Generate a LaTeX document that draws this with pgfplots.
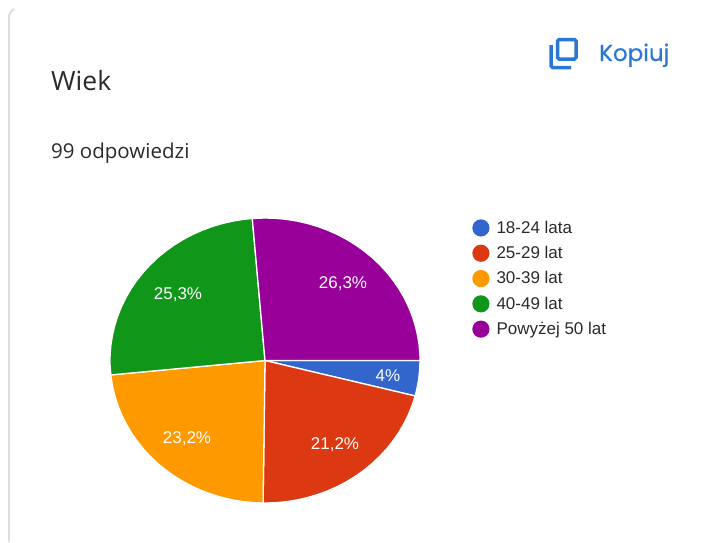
\documentclass[border=0pt]{standalone}
\usepackage{fontspec}
\setmainfont{Liberation Sans}
\newfontfamily\headfont{Open Sans}
\newfontfamily\btnfont[FakeBold=0.5]{Poppins}
\usepackage{pgfplots}
\usepgfplotslibrary{polar}
\pgfplotsset{compat=1.18}
\definecolor{cA}{HTML}{3366CC}
\definecolor{cB}{HTML}{DC3912}
\definecolor{cC}{HTML}{FF9900}
\definecolor{cD}{HTML}{109618}
\definecolor{cE}{HTML}{990099}
\definecolor{btn}{HTML}{2B78D4}
\definecolor{ink}{HTML}{2A2A2A}
\begin{document}
\begin{tikzpicture}
\useasboundingbox (0,0) rectangle (714pt,542pt);
% pie: origin is the pie's centre, unit r = 155 px wide, 142.5 px tall
\begin{axis}[
  at={(0,0)}, anchor=south west,
  scale only axis, width=714pt, height=542pt,
  xmin=-265, xmax=449, ymin=-197.4, ymax=392.1,
  axis lines=none, clip=false,
  legend image code/.code={\fill[#1,draw=none] (0pt,0) circle (8.6pt);},
  legend cell align=left,
  legend style={at={(rel axis cs:0.6615,0.5953)},anchor=north west,draw=none,fill=none,
    font=\fontsize{17}{20}\selectfont\color{ink},
    row sep=8.1pt, column sep=6pt, inner sep=0pt, outer sep=0pt,
    nodes={inner sep=1pt}},
]
\addplot[fill=cA,draw=white,line width=1.3pt,data cs=polar] coordinates {(0,0) (0,155) (-4,155) (-8,155) (-12,155) (-14.4,155)} -- cycle;
\addlegendentry{18-24 lata}
\addplot[fill=cB,draw=white,line width=1.3pt,data cs=polar] coordinates {(0,0) (-14.4,155) (-18,155) (-22,155) (-26,155) (-30,155) (-34,155) (-38,155) (-42,155) (-46,155) (-50,155) (-54,155) (-58,155) (-62,155) (-66,155) (-70,155) (-74,155) (-78,155) (-82,155) (-86,155) (-90,155) (-90.7,155)} -- cycle;
\addlegendentry{25-29 lat}
\addplot[fill=cC,draw=white,line width=1.3pt,data cs=polar] coordinates {(0,0) (-90.7,155) (-94,155) (-98,155) (-102,155) (-106,155) (-110,155) (-114,155) (-118,155) (-122,155) (-126,155) (-130,155) (-134,155) (-138,155) (-142,155) (-146,155) (-150,155) (-154,155) (-158,155) (-162,155) (-166,155) (-170,155) (-174.2,155)} -- cycle;
\addlegendentry{30-39 lat}
\addplot[fill=cD,draw=white,line width=1.3pt,data cs=polar] coordinates {(0,0) (-174.2,155) (-178,155) (-182,155) (-186,155) (-190,155) (-194,155) (-198,155) (-202,155) (-206,155) (-210,155) (-214,155) (-218,155) (-222,155) (-226,155) (-230,155) (-234,155) (-238,155) (-242,155) (-246,155) (-250,155) (-254,155) (-258,155) (-262,155) (-265.3,155)} -- cycle;
\addlegendentry{40-49 lat}
\addplot[fill=cE,draw=white,line width=1.3pt,data cs=polar] coordinates {(0,0) (94.7,155) (90,155) (86,155) (82,155) (78,155) (74,155) (70,155) (66,155) (62,155) (58,155) (54,155) (50,155) (46,155) (42,155) (38,155) (34,155) (30,155) (26,155) (22,155) (18,155) (14,155) (10,155) (6,155) (2,155) (0,155)} -- cycle;
\addlegendentry{Powyżej 50 lat}
\end{axis}
% page furniture and labels in pixel coordinates
\begin{axis}[
  at={(0,0)}, anchor=south west,
  scale only axis, width=714pt, height=542pt,
  xmin=0, xmax=714, ymin=0, ymax=542, y dir=reverse,
  axis lines=none, clip=false,
]
\draw[color=black!13,line width=2pt] (axis cs:9,542) -- (axis cs:9,18) to[out=90,in=210] (axis cs:14,9);
\node[anchor=base west,inner sep=0pt,text=ink,font=\headfont\fontsize{26.5}{30}\selectfont] at (axis cs:51,90) {Wiek};
\node[anchor=base west,inner sep=0pt,text=ink,font=\headfont\fontsize{20.5}{24}\selectfont] at (axis cs:51,158) {99 odpowiedzi};
\node[anchor=base west,inner sep=0pt,text=btn,font=\btnfont\fontsize{23}{26}\selectfont] at (axis cs:599,61) {Kopiuj};
\draw[btn,line width=3.5pt,rounded corners=1.5pt] (axis cs:557.5,39.5) rectangle (axis cs:576,59);
\draw[btn,line width=3.5pt,rounded corners=1.5pt] (axis cs:551,45) -- (axis cs:551,67.5) -- (axis cs:571,67.5);
\node[text=white,inner sep=0pt,font=\fontsize{17}{20}\selectfont] at (axis cs:388,376) {4\%};
\node[text=white,inner sep=0pt,font=\fontsize{17}{20}\selectfont] at (axis cs:343,284) {26,3\%};
\node[text=white,inner sep=0pt,font=\fontsize{17}{20}\selectfont] at (axis cs:178,295) {25,3\%};
\node[text=white,inner sep=0pt,font=\fontsize{17}{20}\selectfont] at (axis cs:187,439) {23,2\%};
\node[text=white,inner sep=0pt,font=\fontsize{17}{20}\selectfont] at (axis cs:335,445) {21,2\%};
\end{axis}
\end{tikzpicture}
\end{document}
